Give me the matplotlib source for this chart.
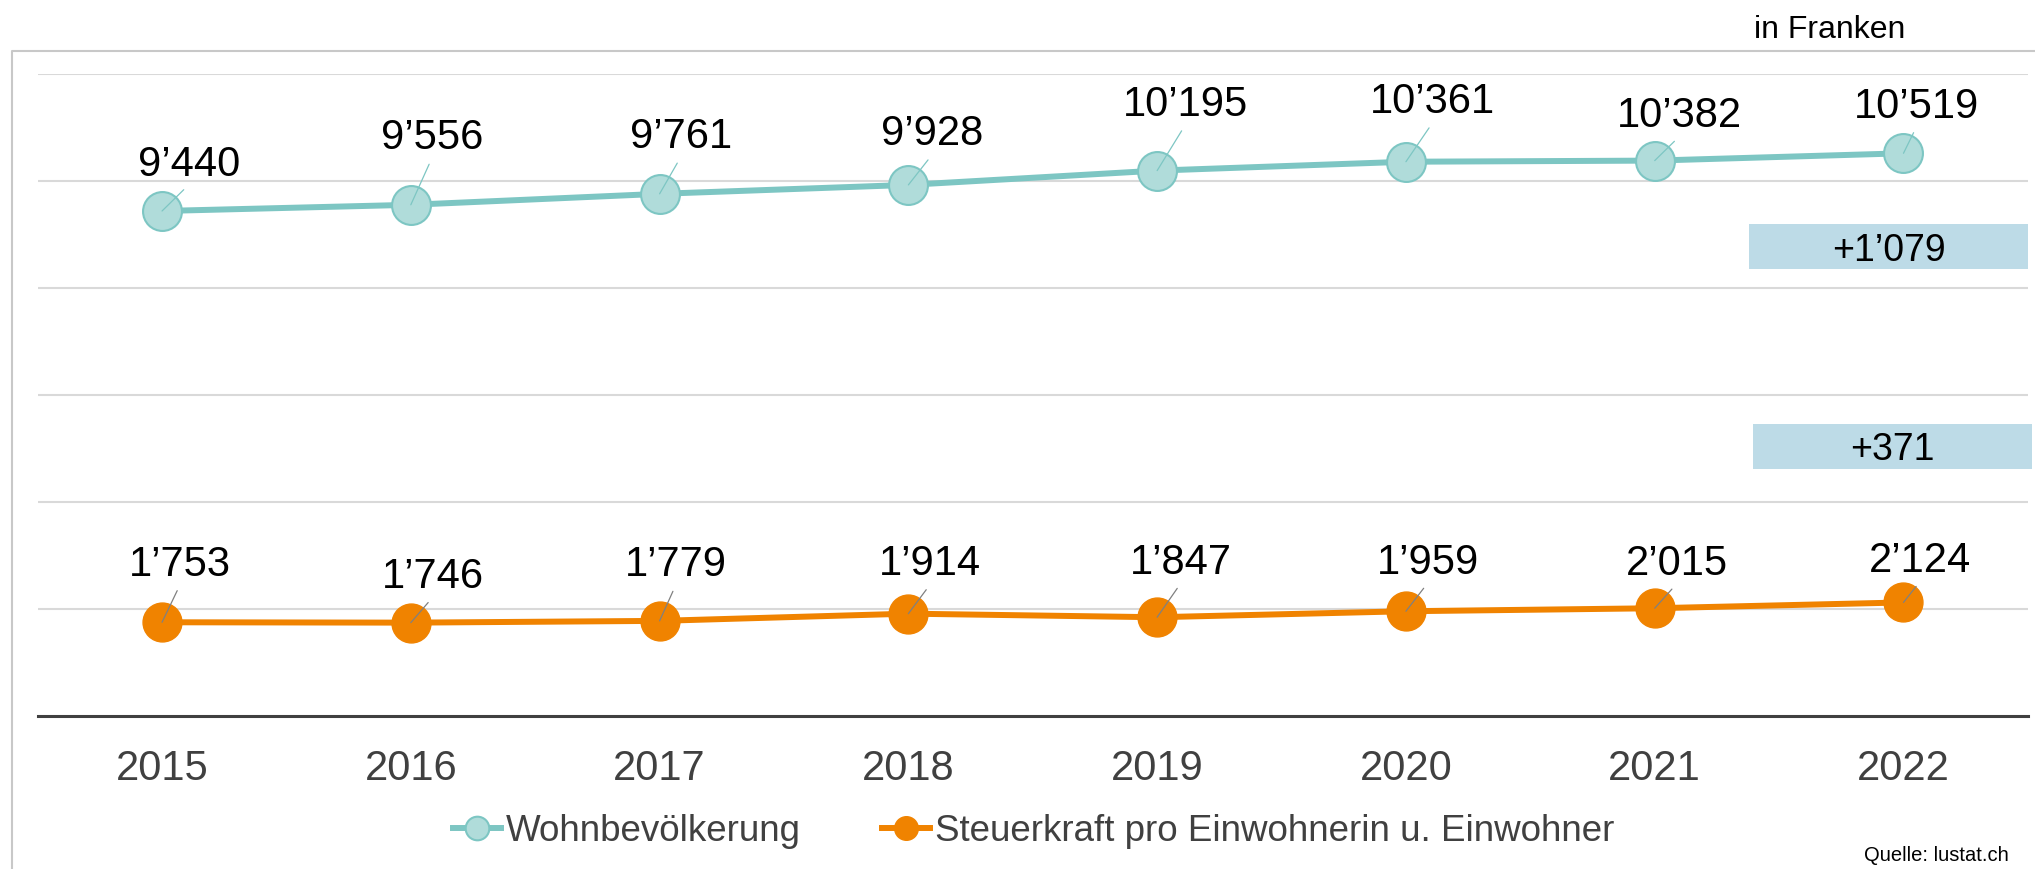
import numpy as np
import matplotlib
matplotlib.use("Agg")
import matplotlib.pyplot as plt
from matplotlib.lines import Line2D

# data
jahre = ["2015", "2016", "2017", "2018", "2019", "2020", "2021", "2022"]
wohnbev = [9440, 9556, 9761, 9928, 10195, 10361, 10382, 10519]
steuerkraft = [1753, 1746, 1779, 1914, 1847, 1959, 2015, 2124]
serien_namen = ["Wohnbevölkerung", "Steuerkraft pro Einwohnerin u. Einwohner"]

# label offsets (pixels, label centre relative to point, y downwards)
off_wohn = [(27, -50), (21, -70), (21, -60), (24, -54), (28, -69), (27, -63), (25, -48), (13, -50)]
off_steuer = [(18, -61), (22, -49), (16, -59), (22, -53), (24, -58), (22, -52), (22, -48), (17, -45)]

teal = "#7DC6C3"
teal_face = "#B0DCDA"
orange = "#F08300"
grey_txt = "#404040"
fs = 30

plt.rcParams["font.family"] = ["Liberation Sans", "DejaVu Sans"]


def fmt(v):
    return "{:,}".format(v).replace(",", "\u2019")


fig = plt.figure(figsize=(20.35, 8.69), dpi=100)
ax = fig.add_axes([0.0185, 0.176, 0.978, 0.7388])

x = np.arange(len(jahre))
ax.plot(x, wohnbev, color=teal, lw=4.3, marker="o", ms=28, mfc=teal_face, mec=teal, mew=1.5, zorder=3)
ax.plot(x, steuerkraft, color=orange, lw=4.3, marker="o", ms=28, mfc=orange, mec=orange, zorder=3)

# labels with leader lines; baseline sits ~14 px below label centre
for vals, offs, lc in [(wohnbev, off_wohn, teal), (steuerkraft, off_steuer, "#808080")]:
    for i in range(len(jahre)):
        dx, dy = offs[i]
        ax.annotate(fmt(vals[i]), (x[i], vals[i]),
                    xytext=(dx, -(dy + 14.5)), textcoords="offset pixels",
                    ha="center", va="baseline", fontsize=fs, color="black", zorder=5,
                    arrowprops=dict(arrowstyle="-", color=lc, lw=0.9, relpos=(0.5, 0.0),
                                    shrinkA=2.5, shrinkB=0))

ax.set_xlim(-0.5, len(jahre) - 0.5)
ax.set_ylim(0, 12000)
ax.set_yticks(np.arange(2000, 12001, 2000))
ax.yaxis.grid(True, color="#D9D9D9", lw=1.5)
ax.set_axisbelow(True)
ax.tick_params(axis="y", left=False, labelleft=False)
ax.set_xticks(x)
ax.set_xticklabels(jahre)
ax.tick_params(axis="x", length=0, pad=24, labelsize=fs, labelcolor=grey_txt)
for s in ["top", "right", "left"]:
    ax.spines[s].set_visible(False)
ax.spines["bottom"].set_color(grey_txt)
ax.spines["bottom"].set_linewidth(2.2)

# differenz boxes
d1 = wohnbev[-1] - wohnbev[0]
d2 = steuerkraft[-1] - steuerkraft[0]
for x0, y0, d in [(0.8595, 0.6904, d1), (0.8614, 0.4603, d2)]:
    fig.patches.append(plt.Rectangle((x0, y0), 0.137, 0.0518, transform=fig.transFigure,
                                     facecolor="#BDDBE7", edgecolor="none", zorder=4))
    fig.text(x0 + 0.0685, y0 + 0.0259, "+" + fmt(d), ha="center", va="center_baseline",
             fontsize=27, color="black", zorder=5)

# outer frame
fig.add_artist(Line2D([0.006, 0.006, 1.0], [0.0, 0.941, 0.941], transform=fig.transFigure,
                      color="#C8C8C8", lw=1.5))

fig.text(0.862, 0.956, "in Franken", ha="left", va="baseline", fontsize=23)
fig.text(0.987, 0.016, "Quelle: lustat.ch", ha="right", va="center", fontsize=14.5)

handles = [
    Line2D([], [], color=teal, lw=4.3, marker="o", ms=17, mfc=teal_face, mec=teal, mew=1.5),
    Line2D([], [], color=orange, lw=4.3, marker="o", ms=17, mfc=orange, mec=orange),
]
leg = fig.legend(handles, serien_namen, loc="center", bbox_to_anchor=(0.508, 0.043), ncol=2,
                 frameon=False, fontsize=26.5, handlelength=1.3, handletextpad=0.15,
                 columnspacing=2.2, borderpad=0, borderaxespad=0)
for t in leg.get_texts():
    t.set_color(grey_txt)

fig.savefig("out.png", dpi=100)
